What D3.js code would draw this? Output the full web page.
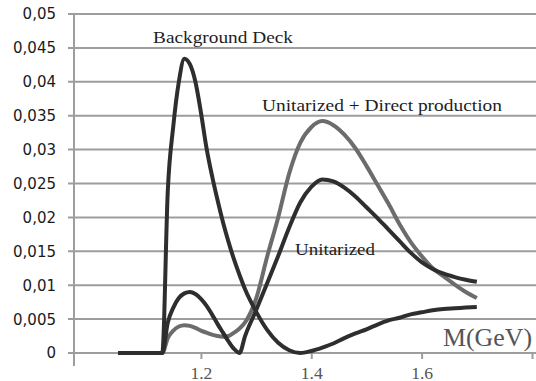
<!DOCTYPE html>
<html>
<head>
<meta charset="utf-8">
<script src="https://cdn.jsdelivr.net/npm/d3@7"></script>
<style>
  body { margin: 0; background: #fff; }
  svg { display: block; }
</style>
</head>
<body>
<div id="chart"></div>
<script>
// M values (GeV), shared by the three curves
var mass = [1.05, 1.13, 1.14, 1.15, 1.16, 1.17, 1.18, 1.19, 1.20, 1.21, 1.22, 1.23, 1.24, 1.25, 1.26, 1.27, 1.28,
  1.30, 1.32, 1.34, 1.36, 1.38, 1.40, 1.42, 1.44, 1.46, 1.48, 1.50, 1.52, 1.54, 1.56, 1.58, 1.60, 1.62, 1.64, 1.66, 1.68, 1.70];

var background = [0, 0, 0.024, 0.0335, 0.0400, 0.0434, 0.0426, 0.0400, 0.0355, 0.0303, 0.0262, 0.0226, 0.0193, 0.0164, 0.0138, 0.0115, 0.0094,
  0.0061, 0.0034, 0.0015, 0.0004, 0, 0.0003, 0.0008, 0.0014, 0.0022, 0.0029, 0.0035, 0.0042, 0.0048, 0.0052, 0.0057, 0.0060, 0.0063, 0.0065, 0.0066, 0.0067, 0.0068];

var unitarized = [0, 0, 0.0045, 0.0067, 0.0081, 0.0088, 0.0090, 0.0087, 0.0080, 0.0070, 0.0057, 0.0043, 0.0030, 0.0017, 0.0006, 0, 0.0025,
  0.0063, 0.0103, 0.0143, 0.0185, 0.0222, 0.0245, 0.0256, 0.0253, 0.0244, 0.0231, 0.0215, 0.0199, 0.0182, 0.0165, 0.0148, 0.0134, 0.0124, 0.0117, 0.0112, 0.0108, 0.0105];

var unitDirect = [0, 0, 0.0022, 0.0033, 0.0039, 0.0041, 0.0040, 0.0037, 0.0033, 0.0030, 0.0027, 0.0025, 0.0024, 0.0025, 0.0030, 0.0036, 0.0045,
  0.0080, 0.0142, 0.0200, 0.0265, 0.0310, 0.0333, 0.0342, 0.0336, 0.0322, 0.0302, 0.0276, 0.0248, 0.0220, 0.0190, 0.0164, 0.0143, 0.0125, 0.0113, 0.0101, 0.0090, 0.0081];

var yTicks = [0, 0.005, 0.01, 0.015, 0.02, 0.025, 0.03, 0.035, 0.04, 0.045, 0.05];
var xTicks = [1.2, 1.4, 1.6, 1.8];

var width = 536, height = 381;

var xScale = d3.scaleLinear().domain([0.97, 1.8]).range([74, 532]);
var yScale = d3.scaleLinear().domain([0, 0.05]).range([353, 14]);

var svg = d3.select("#chart").append("svg")
    .attr("width", width)
    .attr("height", height);

// horizontal grid lines (incl. the axis line at 0)
svg.append("g").selectAll("line").data(yTicks).enter().append("line")
  .attr("x1", 68).attr("x2", width)
  .attr("y1", function(d){ return yScale(d); })
  .attr("y2", function(d){ return yScale(d); })
  .attr("stroke", "#9d9d9d")
  .attr("stroke-width", 2);

// y axis line
svg.append("line")
  .attr("x1", 74).attr("x2", 74)
  .attr("y1", yScale(0.05)).attr("y2", 366)
  .attr("stroke", "#9d9d9d").attr("stroke-width", 2);

// y labels
svg.append("g").selectAll("text").data(yTicks).enter().append("text")
  .attr("x", 56)
  .attr("y", function(d){ return yScale(d); })
  .attr("dy", "0.36em")
  .attr("text-anchor", "end")
  .style("font-family", "DejaVu Sans, sans-serif")
  .style("font-size", "15px")
  .style("fill", "#1a1a1a")
  .text(function(d){ return d === 0 ? "0" : String(d).replace(".", ","); });

// x axis ticks and labels
var xAxis = d3.axisBottom(xScale)
  .tickValues(xTicks)
  .tickSize(6)
  .tickFormat(function(d){ return d == 1.8 ? "" : d3.format(".1f")(d); });

var xA = svg.append("g").attr("transform", "translate(0," + yScale(0) + ")").call(xAxis);
xA.select(".domain").remove();
xA.selectAll(".tick line").attr("stroke", "#9d9d9d").attr("stroke-width", 2);
xA.selectAll(".tick text")
  .attr("y", 15)
  .attr("dy", "0.71em")
  .attr("x", 0)
  .attr("textLength", 22)
  .attr("lengthAdjust", "spacingAndGlyphs")
  .style("font-family", "Liberation Serif, serif")
  .style("font-size", "16px")
  .style("fill", "#555");

var line = d3.line()
  .x(function(d, i){ return xScale(mass[i]); })
  .y(function(d){ return yScale(d); })
  .curve(d3.curveMonotoneX);

var series = [
  {name: "Unitarized + Direct production", values: unitDirect, color: "#6c6c6c"},
  {name: "Unitarized", values: unitarized, color: "#2e2e2e"},
  {name: "Background Deck", values: background, color: "#2e2e2e"}
];

series.forEach(function(s){
  svg.append("path")
    .attr("d", line(s.values))
    .attr("fill", "none")
    .attr("stroke", s.color)
    .attr("stroke-width", 4)
    .attr("stroke-linejoin", "round")
    .attr("stroke-linecap", "butt");
});

// curve labels
function label(txt, x, y, size, len, col){
  svg.append("text")
    .attr("x", x).attr("y", y)
    .attr("textLength", len)
    .attr("lengthAdjust", "spacingAndGlyphs")
    .style("font-family", "Liberation Serif, serif")
    .style("font-size", size + "px")
    .style("fill", col)
    .text(txt);
}
label("Background Deck", 153, 43, 17, 140, "#1e1e1e");
label("Unitarized + Direct production", 262, 111, 17, 240, "#1e1e1e");
label("Unitarized", 295, 255, 17, 80, "#1e1e1e");
label("M(GeV)", 443, 346, 26, 89, "#555");
</script>
</body>
</html>
